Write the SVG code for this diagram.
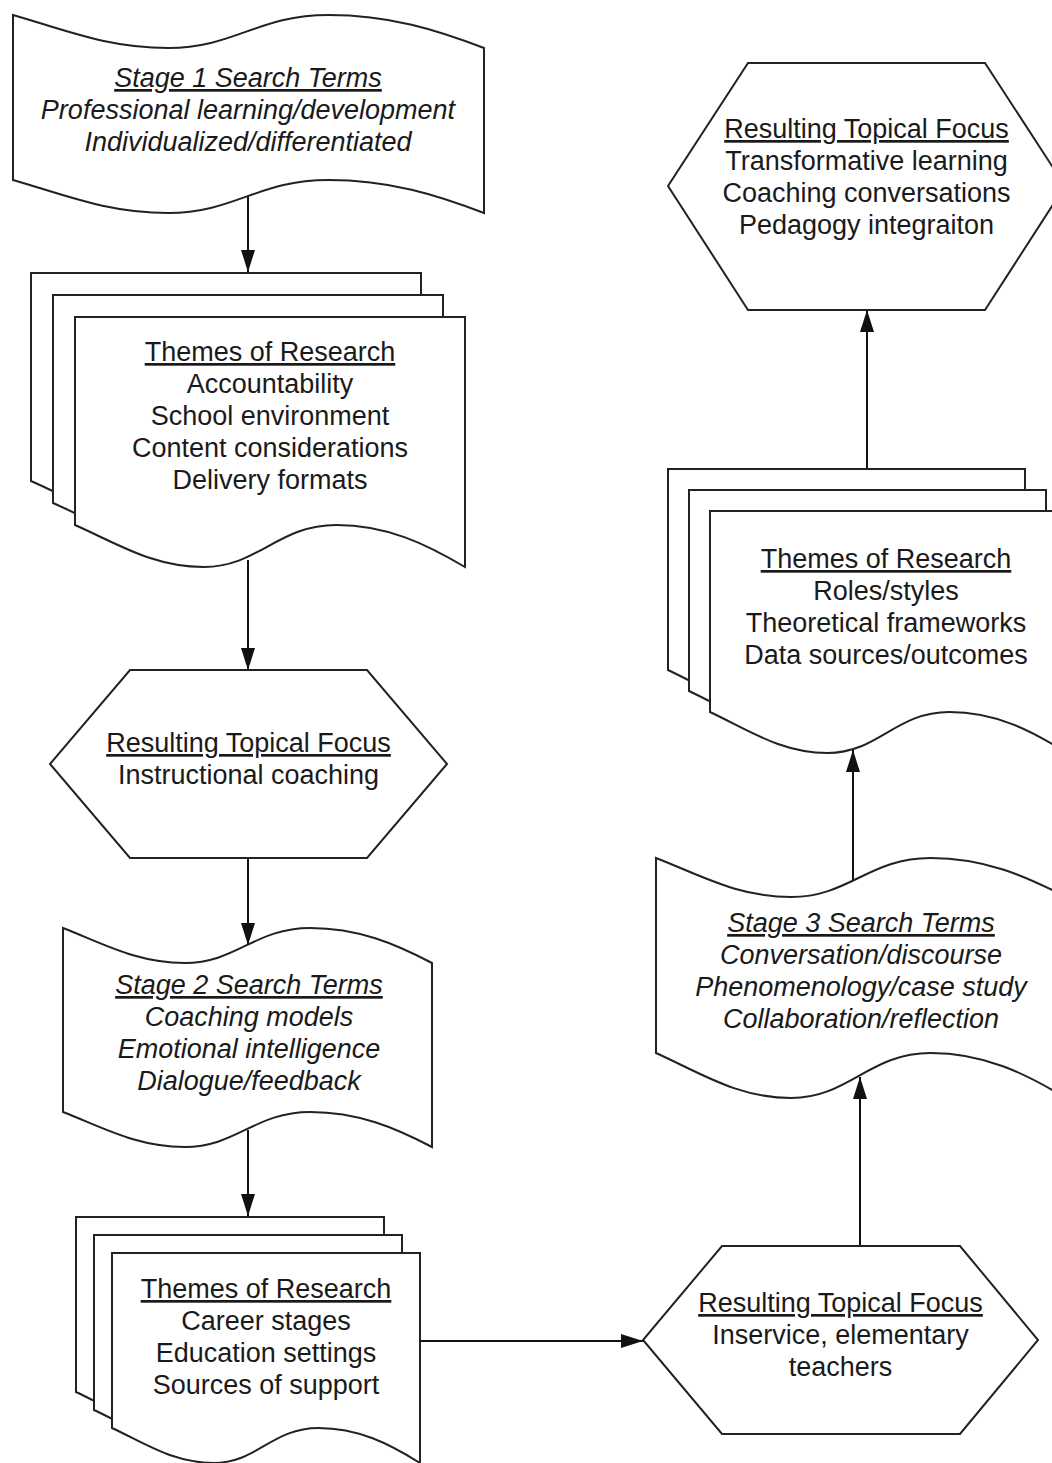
<svg xmlns="http://www.w3.org/2000/svg" width="1052" height="1463" viewBox="0 0 1052 1463">
  <style>
    .shape { fill: #ffffff; stroke: #222222; stroke-width: 2; stroke-linejoin: miter; }
    .edge { fill: none; stroke: #111111; stroke-width: 2; }
    .label { font-family: "Liberation Sans", Arial, sans-serif; font-size: 27px; fill: #1a1a1a; text-anchor: middle; }
    .italic { font-style: italic; }
    .head { text-decoration: underline; }
  </style>
  <defs>
    <marker id="arrow" viewBox="0 0 22 14" markerWidth="22" markerHeight="14" refX="22" refY="7" orient="auto" markerUnits="userSpaceOnUse">
      <path d="M0,0 L22,7 L0,14 Z" fill="#111111"/>
    </marker>
  </defs>
  <rect x="0" y="0" width="1052" height="1463" fill="#ffffff"/>

  <!-- connectors sit beneath the nodes -->
  <g id="connectors">
    <line class="edge" x1="248" y1="197" x2="248" y2="272" marker-end="url(#arrow)"/>
    <line class="edge" x1="248" y1="560" x2="248" y2="670" marker-end="url(#arrow)"/>
    <line class="edge" x1="248" y1="858" x2="248" y2="945" marker-end="url(#arrow)"/>
    <line class="edge" x1="248" y1="1130" x2="248" y2="1216" marker-end="url(#arrow)"/>
    <line class="edge" x1="420" y1="1341" x2="643" y2="1341" marker-end="url(#arrow)"/>
    <line class="edge" x1="860" y1="1246" x2="860" y2="1077" marker-end="url(#arrow)"/>
    <line class="edge" x1="853" y1="880" x2="853" y2="750" marker-end="url(#arrow)"/>
    <line class="edge" x1="867" y1="469" x2="867" y2="310" marker-end="url(#arrow)"/>
  </g>

  <!-- Stage 1 search terms (punched tape) -->
  <g id="stage1">
    <path class="shape" d="M13,15 C64.8,29.9 107.2,48 168.4,48 C234.4,48 257.9,15 328.6,15 C389.8,15 436.9,29.9 484,48 L484,213 C436.9,194.9 389.8,180 328.6,180 C257.9,180 234.4,213 168.4,213 C107.2,213 64.8,194.9 13,180 Z"/>
    <text class="label italic" x="248" y="87"><tspan class="head">Stage 1 Search Terms</tspan></text>
    <text class="label italic" x="248" y="119">Professional learning/development</text>
    <text class="label italic" x="248" y="151">Individualized/differentiated</text>
  </g>

  <!-- Themes of research 1 (document stack) -->
  <g id="themes1">
    <path class="shape" d="M31,273 H421 V523 C382,499.9 343,481 292.3,481 C233.8,481 214.3,523 159.7,523 C109,523 73.9,499.9 31,481 Z"/>
    <path class="shape" d="M53,295 H443 V545 C404,521.9 365,503 314.3,503 C255.8,503 236.3,545 181.7,545 C131,545 95.9,521.9 53,503 Z"/>
    <path class="shape" d="M75,317 H465 V567 C426,543.9 387,525 336.3,525 C277.8,525 258.3,567 203.7,567 C153,567 117.9,543.9 75,525 Z"/>
    <text class="label" x="270" y="361"><tspan class="head">Themes of Research</tspan></text>
    <text class="label" x="270" y="393">Accountability</text>
    <text class="label" x="270" y="425">School environment</text>
    <text class="label" x="270" y="457">Content considerations</text>
    <text class="label" x="270" y="489">Delivery formats</text>
  </g>

  <!-- Resulting topical focus 1 (hexagon) -->
  <g id="focus1">
    <polygon class="shape" points="130,670 367,670 447,764 367,858 130,858 50,764"/>
    <text class="label" x="248.5" y="752"><tspan class="head">Resulting Topical Focus</tspan></text>
    <text class="label" x="248.5" y="784">Instructional coaching</text>
  </g>

  <!-- Stage 2 search terms (punched tape) -->
  <g id="stage2">
    <path class="shape" d="M63,928 C103.6,943.8 136.8,963 184.8,963 C236.4,963 254.9,928 310.2,928 C358.2,928 395.1,943.8 432,963 L432,1147 C395.1,1127.8 358.2,1112 310.2,1112 C254.9,1112 236.4,1147 184.8,1147 C136.8,1147 103.6,1127.8 63,1112 Z"/>
    <text class="label italic" x="249" y="994"><tspan class="head">Stage 2 Search Terms</tspan></text>
    <text class="label italic" x="249" y="1026">Coaching models</text>
    <text class="label italic" x="249" y="1058">Emotional intelligence</text>
    <text class="label italic" x="249" y="1090">Dialogue/feedback</text>
  </g>

  <!-- Themes of research 2 (document stack) -->
  <g id="themes2">
    <path class="shape" d="M76,1217 H384 V1427 C353.2,1407.8 322.4,1392 282.4,1392 C236.2,1392 220.8,1427 177.6,1427 C137.6,1427 109.9,1407.8 76,1392 Z"/>
    <path class="shape" d="M94,1235 H402 V1445 C371.2,1425.8 340.4,1410 300.4,1410 C254.2,1410 238.8,1445 195.6,1445 C155.6,1445 127.9,1425.8 94,1410 Z"/>
    <path class="shape" d="M112,1253 H420 V1463 C389.2,1443.8 358.4,1428 318.4,1428 C272.2,1428 256.8,1463 213.6,1463 C173.6,1463 145.9,1443.8 112,1428 Z"/>
    <text class="label" x="266" y="1298"><tspan class="head">Themes of Research</tspan></text>
    <text class="label" x="266" y="1330">Career stages</text>
    <text class="label" x="266" y="1362">Education settings</text>
    <text class="label" x="266" y="1394">Sources of support</text>
  </g>

  <!-- Resulting topical focus 2 (hexagon) -->
  <g id="focus2">
    <polygon class="shape" points="722,1246 960,1246 1038,1340 960,1434 722,1434 643,1340"/>
    <text class="label" x="840.5" y="1312"><tspan class="head">Resulting Topical Focus</tspan></text>
    <text class="label" x="840.5" y="1344">Inservice, elementary</text>
    <text class="label" x="840.5" y="1376">teachers</text>
  </g>

  <!-- Stage 3 search terms (punched tape) -->
  <g id="stage3">
    <path class="shape" d="M656,858 C701.1,875.6 738,897 791.3,897 C848.7,897 869.2,858 930.7,858 C984,858 1025,875.6 1066,897 L1066,1098 C1025,1073.3 984,1053 930.7,1053 C869.2,1053 848.7,1098 791.3,1098 C738,1098 701.1,1073.3 656,1053 Z"/>
    <text class="label italic" x="861" y="932"><tspan class="head">Stage 3 Search Terms</tspan></text>
    <text class="label italic" x="861" y="964">Conversation/discourse</text>
    <text class="label italic" x="861" y="996">Phenomenology/case study</text>
    <text class="label italic" x="861" y="1028">Collaboration/reflection</text>
  </g>

  <!-- Themes of research 3 (document stack) -->
  <g id="themes3">
    <path class="shape" d="M668,469 H1025 V711 C989.3,688.5 953.6,670 907.2,670 C853.6,670 835.8,711 785.8,711 C739.4,711 707.3,688.5 668,670 Z"/>
    <path class="shape" d="M689,490 H1046 V732 C1010.3,709.5 974.6,691 928.2,691 C874.6,691 856.8,732 806.8,732 C760.4,732 728.3,709.5 689,691 Z"/>
    <path class="shape" d="M710,511 H1067 V753 C1031.3,730.5 995.6,712 949.2,712 C895.6,712 877.8,753 827.8,753 C781.4,753 749.3,730.5 710,712 Z"/>
    <text class="label" x="886" y="568"><tspan class="head">Themes of Research</tspan></text>
    <text class="label" x="886" y="600">Roles/styles</text>
    <text class="label" x="886" y="632">Theoretical frameworks</text>
    <text class="label" x="886" y="664">Data sources/outcomes</text>
  </g>

  <!-- Resulting topical focus 3 (hexagon) -->
  <g id="focus3">
    <polygon class="shape" points="748,63 985,63 1065,186 985,310 748,310 668,186"/>
    <text class="label" x="866.5" y="138"><tspan class="head">Resulting Topical Focus</tspan></text>
    <text class="label" x="866.5" y="170">Transformative learning</text>
    <text class="label" x="866.5" y="202">Coaching conversations</text>
    <text class="label" x="866.5" y="234">Pedagogy integraiton</text>
  </g>
</svg>
